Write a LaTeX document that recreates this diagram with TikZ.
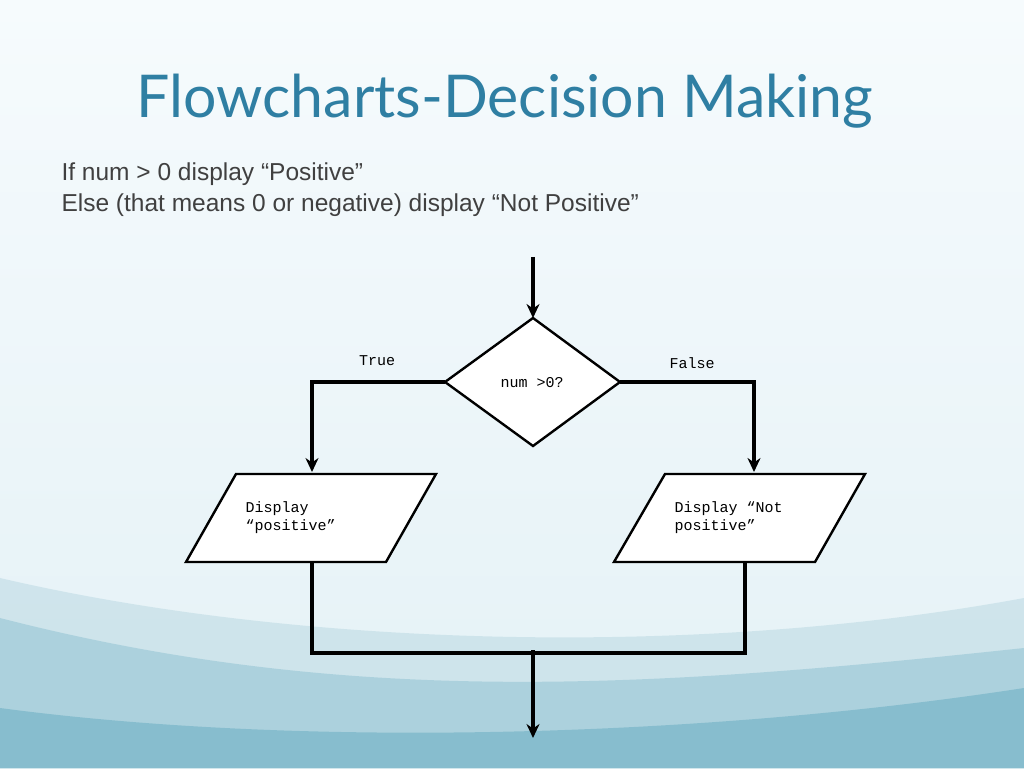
\documentclass[tikz,border=0pt]{standalone}
\usepackage{fontspec}
\setmainfont{Liberation Sans}
\newfontfamily\titlefont{Lato}
\newfontfamily\monofont{Liberation Mono}
\usetikzlibrary{arrows.meta,calc}
\definecolor{titleblue}{HTML}{2F7FA3}
\definecolor{bgtop}{HTML}{F6FBFD}
\definecolor{bgmid}{HTML}{E4F1F6}
\definecolor{bgbot}{HTML}{6FB0C4}
\tikzset{
  flow/.style={line width=3.5pt},
  arr/.style={flow,-{Stealth[length=14pt,width=13pt]}},
  shapebox/.style={draw,line width=2.4pt,fill=white},
  mono/.style={font=\monofont\fontsize{15}{18}\selectfont,align=left},
}
\begin{document}
\begin{tikzpicture}[x=1pt,y=1pt]
\useasboundingbox (0,0) rectangle (1024,768);
\shade[top color=bgtop,bottom color=bgmid] (0,0) rectangle (1024,768);
\fill[bgbot!50,opacity=0.5] (0,190) .. controls (300,120) and (700,110) .. (1024,170) -- (1024,0) -- (0,0) -- cycle;
\fill[bgbot!80,opacity=0.5] (0,150) .. controls (350,60) and (650,80) .. (1024,120) -- (1024,0) -- (0,0) -- cycle;
\fill[bgbot,opacity=0.6] (0,60) .. controls (300,20) and (700,30) .. (1024,80) -- (1024,0) -- (0,0) -- cycle;
\node[font=\titlefont\fontsize{59}{64}\selectfont,text=titleblue] (title) at (505,667) {Flowcharts-Decision Making};
\node[anchor=west,font=\fontsize{24.5}{28}\selectfont,text=black!75] (l1) at (58,594) {If num > 0 display “Positive”};
\node[anchor=west,font=\fontsize{24.5}{28}\selectfont,text=black!75] (l2) at (58,563) {Else (that means 0 or negative) display “Not Positive”};
% diamond
\coordinate (dt) at (533,450);
\coordinate (dl) at (445,386);
\coordinate (dr) at (620,386);
\coordinate (db) at (533,322);
\draw[shapebox] (dt) -- (dr) -- (db) -- (dl) -- cycle;
\node[mono] (cond) at (532,385) {num >0?};
\coordinate (start) at (533,511);
\draw[arr] (start) -- (dt);
% parallelograms
\draw[shapebox] (236,294) -- (436,294) -- (386,206) -- (186,206) -- cycle;
\draw[shapebox] (665,294) -- (865,294) -- (815,206) -- (614,206) -- cycle;
\node[mono,anchor=west] (p1) at (242,250) {Display\\“positive”};
\node[mono,anchor=west] (p2) at (671,250) {Display “Not\\positive”};
\coordinate (lt) at (312,296);
\coordinate (rt) at (754,296);
\draw[arr] (dl) -- (312,386) -- (lt);
\draw[arr] (dr) -- (754,386) -- (rt);
\node[mono] (t) at (377,407) {True};
\node[mono] (f) at (692,405) {False};
\draw[flow] (312,206) -- (312,115) -- (745,115) -- (745,206);
\coordinate (end) at (533,30);
\draw[arr] (533,118) -- (end);
\end{tikzpicture}
\end{document}
